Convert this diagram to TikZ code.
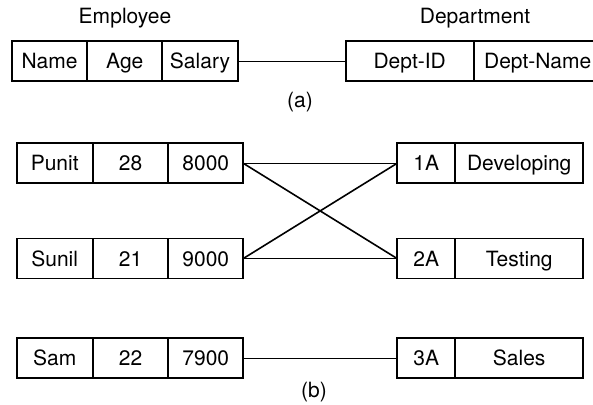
\documentclass[tikz,border=0pt]{standalone}
\usepackage{fontspec}
\setmainfont{TeX Gyre Heros}
\usetikzlibrary{
  positioning % For cells placed next to each other
}

\begin{document}
\begin{tikzpicture}[
      x=1pt, y=-1pt, % Pixel grid, y downwards
      font=\fontsize{21}{24}\selectfont,
      cell/.style={draw, line width=1.9pt, minimum height=40pt, inner sep=0pt,
                   outer sep=0pt, text height=15pt, text depth=0pt}, % Table cell
      link/.style={line width=1.6pt}, % Connector between rows
    ]

    % Rahmen
    \useasboundingbox (0,0) rectangle (593,404);

    % Schema (a)
    \node[anchor=base] (emp) at (125,24) {Employee};
    \node[cell, minimum width=75.6pt] (name) at (49.5,61.3) {Name};
    \node[cell, minimum width=75pt, right=0pt of name] (age) {Age};
    \node[cell, minimum width=75.4pt, right=0pt of age] (salary) {Salary};

    \node[anchor=base] (dept) at (475,24) {Department};
    \node[cell, minimum width=128pt] (deptid) at (409.7,61.3) {Dept-ID};
    \node[cell, minimum width=128pt, right=0pt of deptid] (deptname) {Dept-Name};

    \draw[link] (salary) -- (deptid);
    \node (capa) at (300,102) {(a)};

    % Tupel (b)
    \foreach \i/\nm/\ag/\sal/\id/\dep/\y in {1/Punit/28/8000/1A/Developing/163.3,
                                           2/Sunil/21/9000/2A/Testing/258.5,
                                           3/Sam/22/7900/3A/Sales/358.3} {
      \node[cell, minimum width=76pt] (n\i) at (54.7,\y) {\nm};
      \node[cell, minimum width=75.6pt, right=0pt of n\i] (a\i) {\ag};
      \node[cell, minimum width=75pt, right=0pt of a\i] (s\i) {\sal};
      \node[cell, minimum width=58.3pt] (d\i) at (426.2,\y) {\id};
      \node[cell, minimum width=127.7pt, right=0pt of d\i] (dn\i) {\dep};
    }

    \foreach \p/\q in {1/1, 1/2, 2/1, 2/2, 3/3}
    \draw[link] (s\p.east) -- (d\q.west);

    \node (capb) at (314,392) {(b)};

  \end{tikzpicture}
\end{document}
